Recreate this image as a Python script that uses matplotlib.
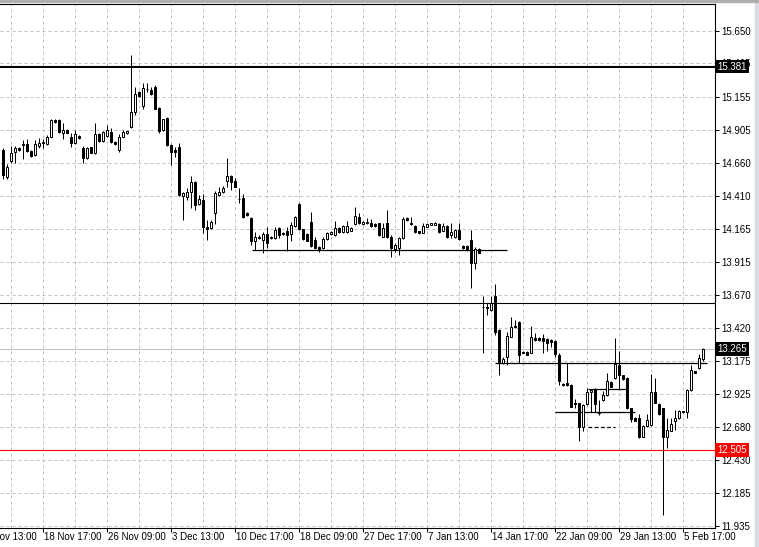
import matplotlib
matplotlib.use('Agg')
import matplotlib.pyplot as plt
import matplotlib.transforms as mtransforms
from matplotlib.patches import Rectangle

plt.rcParams['font.family'] = 'Liberation Sans'

# OHLC per bar (bar index 0 = leftmost)
opens = [14.755, 14.553, 14.673, 14.738, 14.772, 14.793, 14.798, 14.748, 14.718, 14.785,
         14.805, 14.798, 14.855, 14.98, 14.98, 14.885, 14.905, 14.85, 14.81, 14.862,
         14.772, 14.693, 14.775, 14.73, 14.873, 14.823, 14.86, 14.888, 14.817, 14.755,
         14.855, 14.88, 14.925, 15.042, 15.192, 15.087, 15.21, 15.205, 15.23, 15.068,
         14.905, 14.993, 14.793, 14.755, 14.775, 14.41, 14.405, 14.442, 14.517, 14.35,
         14.38, 14.175, 14.168, 14.285, 14.418, 14.442, 14.525, 14.56, 14.523, 14.385,
         14.393, 14.28, 14.247, 14.075, 14.10, 14.08, 14.125, 14.095, 14.093, 14.168,
         14.135, 14.15, 14.123, 14.187, 14.35, 14.16, 14.123, 14.217, 14.08, 14.03,
         14.018, 14.088, 14.125, 14.118, 14.168, 14.142, 14.138, 14.15, 14.198, 14.25,
         14.20, 14.205, 14.21, 14.20, 14.205, 14.105, 14.205, 14.10, 14.01, 14.018,
         14.093, 14.243, 14.21, 14.185, 14.148, 14.135, 14.18, 14.193, 14.193, 14.198,
         14.15, 14.185, 14.118, 14.10, 14.155, 14.038, 14.035, 14.08, 13.91, 14.01,
         13.574, 13.575, 13.555, 13.66, 13.405, 13.155, 13.205, 13.355, 13.437, 13.467,
         13.235, 13.24, 13.235, 13.347, 13.345, 13.343, 13.335, 13.33, 13.323, 13.218,
         13.00, 13.01, 12.993, 12.855, 12.855, 12.68, 12.85, 12.938, 12.963, 12.79,
         12.88, 12.918, 13.013, 13.043, 13.143, 13.068, 13.048, 12.817, 12.748, 12.743,
         12.605, 12.685, 12.693, 12.938, 12.85, 12.817, 12.605, 12.65, 12.725, 12.743,
         12.795, 12.792, 12.955, 13.098, 13.122, 13.185]
highs = [14.77, 14.65, 14.785, 14.785, 14.78, 14.83, 14.835, 14.755, 14.83, 14.843,
         14.835, 14.868, 14.985, 14.99, 14.985, 14.955, 14.91, 14.885, 14.905, 14.87,
         14.785, 14.78, 14.78, 14.96, 14.88, 14.90, 14.943, 14.918, 14.82, 14.875,
         14.905, 14.90, 15.468, 15.23, 15.20, 15.255, 15.255, 15.23, 15.243, 15.08,
         14.99, 15.00, 14.80, 14.775, 14.805, 14.44, 14.47, 14.56, 14.525, 14.418,
         14.425, 14.23, 14.23, 14.45, 14.48, 14.485, 14.697, 14.565, 14.545, 14.468,
         14.425, 14.29, 14.25, 14.142, 14.118, 14.142, 14.18, 14.11, 14.18, 14.175,
         14.14, 14.18, 14.217, 14.26, 14.36, 14.165, 14.13, 14.288, 14.105, 14.035,
         14.10, 14.14, 14.145, 14.223, 14.175, 14.19, 14.225, 14.175, 14.33, 14.28,
         14.225, 14.243, 14.235, 14.205, 14.21, 14.205, 14.305, 14.118, 14.055, 14.105,
         14.255, 14.25, 14.255, 14.19, 14.15, 14.205, 14.205, 14.21, 14.215, 14.205,
         14.205, 14.19, 14.205, 14.16, 14.205, 14.045, 14.04, 14.155, 14.03, 14.02,
         13.66, 13.608, 13.66, 13.75, 13.41, 13.205, 13.392, 13.505, 13.48, 13.475,
         13.245, 13.245, 13.435, 13.385, 13.35, 13.375, 13.343, 13.335, 13.33, 13.23,
         13.005, 13.155, 13.00, 12.885, 12.86, 12.85, 12.968, 12.965, 12.968, 12.88,
         12.95, 13.08, 13.02, 13.343, 13.25, 13.07, 13.055, 12.82, 12.75, 12.772,
         12.69, 12.775, 13.075, 13.043, 12.855, 12.82, 12.743, 12.743, 12.805, 12.805,
         12.80, 12.96, 13.143, 13.10, 13.223, 13.273]
lows = [14.538, 14.538, 14.658, 14.66, 14.75, 14.688, 14.74, 14.70, 14.71, 14.768,
        14.768, 14.79, 14.85, 14.955, 14.88, 14.835, 14.88, 14.78, 14.80, 14.835,
        14.66, 14.685, 14.73, 14.725, 14.815, 14.815, 14.855, 14.805, 14.79, 14.742,
        14.85, 14.875, 14.918, 15.018, 15.155, 15.063, 15.19, 15.17, 15.06, 14.88,
        14.90, 14.785, 14.643, 14.705, 14.41, 14.23, 14.38, 14.318, 14.305, 14.345,
        14.135, 14.08, 14.16, 14.20, 14.41, 14.435, 14.48, 14.455, 14.475, 14.355,
        14.243, 14.258, 14.043, 14.005, 14.09, 13.985, 14.018, 14.09, 14.09, 14.093,
        14.12, 14.00, 14.075, 14.18, 14.155, 14.08, 14.07, 14.03, 14.01, 13.993,
        14.01, 14.08, 14.12, 14.11, 14.135, 14.135, 14.13, 14.145, 14.19, 14.20,
        14.195, 14.20, 14.18, 14.18, 14.11, 14.10, 14.095, 13.955, 13.993, 13.968,
        14.085, 14.225, 14.19, 14.13, 14.125, 14.13, 14.175, 14.19, 14.19, 14.135,
        14.145, 14.095, 14.093, 14.095, 14.08, 14.01, 14.00, 13.72, 13.86, 13.98,
        13.233, 13.518, 13.55, 13.368, 13.068, 13.15, 13.143, 13.35, 13.42, 13.155,
        13.23, 13.215, 13.23, 13.325, 13.325, 13.235, 13.25, 13.275, 13.205, 12.993,
        12.985, 12.985, 12.825, 12.817, 12.575, 12.65, 12.845, 12.792, 12.792, 12.77,
        12.875, 12.91, 12.975, 13.035, 12.955, 13.03, 12.81, 12.717, 12.72, 12.593,
        12.60, 12.68, 12.685, 12.855, 12.77, 12.018, 12.518, 12.645, 12.655, 12.74,
        12.785, 12.743, 12.95, 13.08, 13.115, 13.175]
closes = [14.568, 14.628, 14.733, 14.768, 14.755, 14.798, 14.75, 14.71, 14.798, 14.805,
          14.813, 14.855, 14.98, 14.963, 14.892, 14.905, 14.885, 14.81, 14.873, 14.843,
          14.693, 14.772, 14.735, 14.873, 14.823, 14.892, 14.905, 14.817, 14.798, 14.855,
          14.888, 14.898, 15.042, 15.175, 15.162, 15.218, 15.215, 15.175, 15.063, 14.90,
          14.988, 14.793, 14.742, 14.742, 14.418, 14.433, 14.442, 14.517, 14.343, 14.385,
          14.175, 14.16, 14.217, 14.43, 14.442, 14.468, 14.56, 14.517, 14.48, 14.39,
          14.255, 14.265, 14.075, 14.10, 14.095, 14.125, 14.055, 14.10, 14.155, 14.118,
          14.125, 14.118, 14.193, 14.255, 14.16, 14.088, 14.075, 14.038, 14.018, 14.015,
          14.085, 14.13, 14.138, 14.168, 14.142, 14.185, 14.187, 14.168, 14.26, 14.205,
          14.217, 14.213, 14.187, 14.187, 14.118, 14.168, 14.10, 14.018, 14.043, 14.093,
          14.235, 14.23, 14.198, 14.138, 14.13, 14.185, 14.198, 14.205, 14.205, 14.142,
          14.187, 14.10, 14.142, 14.155, 14.085, 14.018, 14.005, 13.91, 14.013, 13.985,
          13.58, 13.57, 13.61, 13.392, 13.167, 13.185, 13.36, 13.43, 13.425, 13.218,
          13.24, 13.22, 13.35, 13.33, 13.33, 13.323, 13.31, 13.317, 13.225, 13.025,
          12.99, 12.993, 12.83, 12.85, 12.675, 12.843, 12.938, 12.955, 12.85, 12.78,
          12.918, 13.023, 12.98, 13.15, 13.068, 13.038, 12.817, 12.735, 12.725, 12.605,
          12.685, 12.73, 12.938, 12.86, 12.775, 12.605, 12.655, 12.70, 12.743, 12.798,
          12.79, 12.955, 13.105, 13.085, 13.193, 13.265]

price_ticks = [15.650, 15.405, 15.155, 14.905, 14.660, 14.410, 14.165, 13.915,
               13.670, 13.420, 13.175, 12.925, 12.680, 12.430, 12.185, 11.935]
date_pos = [-6, 10, 26, 42, 58, 74, 90, 106, 122, 138, 154, 170]
date_labels = ['11 Nov 13:00', '18 Nov 17:00', '26 Nov 09:00', '3 Dec 13:00',
               '10 Dec 17:00', '18 Dec 09:00', '27 Dec 17:00', '7 Jan 13:00',
               '14 Jan 17:00', '22 Jan 09:00', '29 Jan 13:00', '5 Feb 17:00']

# drawn levels: full-width lines and short segments (price, start bar, end bar)
resistance = 15.381
support_mid = 13.61
bid = 13.265
red_level = 12.505
segments = [(14.005, 62.2, 125.9), (13.155, 122.9, 175.9),
            (12.96, 146.1, 155.9), (12.79, 137.9, 157.9)]
dashed_seg = (12.677, 146.1, 152.9)

fig = plt.figure(figsize=(7.59, 5.47), dpi=100)
ax = fig.add_axes([0, 19/547, 715/759, 524/547])
ax.set_xlim(-0.825, 177.9)
ax.set_ylim(11.92, 15.85)

# grid
for p in price_ticks:
    ax.axhline(p, color='#c0c0c0', lw=0.72, ls=(0, (3, 3)), zorder=0)
for g in range(2, 178, 8):
    ax.axvline(g, color='#c0c0c0', lw=0.72, ls=(0, (3, 3)), zorder=0)

# levels
ax.axhline(resistance, color='black', lw=1.5, zorder=1)
ax.axhline(support_mid, color='black', lw=0.8, zorder=1)
ax.axhline(bid, color='#c0c0c0', lw=0.8, zorder=1)
ax.axhline(red_level, color='red', lw=0.8, zorder=1)
for p, a, b in segments:
    ax.hlines(p, a, b, color='black', lw=0.9, zorder=1)
ax.hlines(dashed_seg[0], dashed_seg[1], dashed_seg[2], color='black', lw=0.9,
          ls=(0, (3, 2)), zorder=1)

# candles
w = 0.5
for i in range(len(opens)):
    o, h, l, c = opens[i], highs[i], lows[i], closes[i]
    ax.vlines(i, l, h, color='black', lw=0.72, zorder=2)
    if abs(c - o) < 0.004:
        ax.hlines((o + c) / 2, i - 0.4, i + 0.4, color='black', lw=0.9, zorder=3)
    else:
        fc = 'white' if c > o else 'black'
        ax.add_patch(Rectangle((i - w/2, min(o, c)), w, abs(c - o), fc=fc,
                               ec='black', lw=0.72, zorder=3))

# axes look
ax.spines['left'].set_visible(False)
for s in ['top', 'right', 'bottom']:
    ax.spines[s].set_linewidth(0.8)
ax.yaxis.tick_right()
ax.set_yticks(price_ticks)
ax.set_yticklabels(['%.3f' % p for p in price_ticks])
ax.tick_params(axis='y', direction='out', length=3, width=0.7, pad=1.5,
               labelsize=7, colors='black')
ax.set_xticks([d for d in date_pos if d >= 0])
ax.set_xticklabels([])
ax.tick_params(axis='x', direction='out', length=3, width=0.7)

trans = mtransforms.offset_copy(ax.get_xaxis_transform(), fig=fig, x=0.5, y=-3.2,
                                units='points')
for d, lab in zip(date_pos, date_labels):
    ax.text(d, 0, lab, transform=trans, ha='left', va='top', fontsize=7,
            clip_on=False)

# price boxes on the right axis
for val, col in [(resistance, 'black'), (bid, 'black'), (red_level, 'red')]:
    ax.annotate('%.3f' % val, xy=(1, val), xycoords=('axes fraction', 'data'),
                xytext=(1.6, 0), textcoords='offset points', ha='left', va='center',
                color='white', fontsize=7, annotation_clip=False,
                bbox=dict(boxstyle='square,pad=0.2', fc=col, ec='none'))

# window edges
fig.patches.append(Rectangle((755/759, 0), 4/759, 1, transform=fig.transFigure,
                             color='#d8dde5', zorder=0))
fig.patches.append(Rectangle((0, 545/547), 1, 2/547, transform=fig.transFigure,
                             color='#b0b0b0', zorder=0))

fig.savefig('out.png', dpi=100)
